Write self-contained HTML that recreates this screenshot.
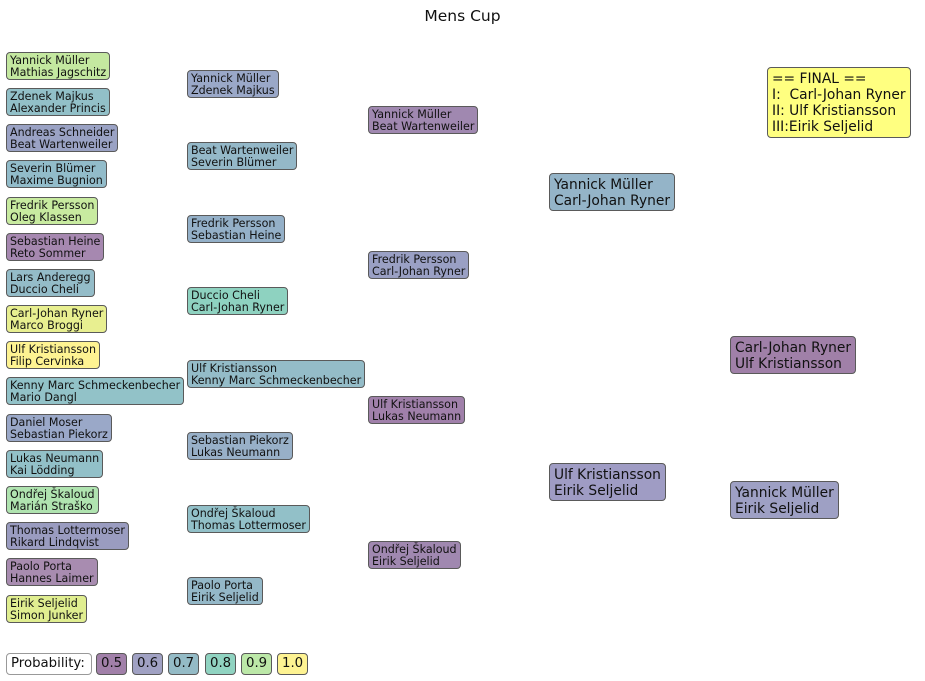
<!DOCTYPE html>
<html><head><meta charset="utf-8"><style>
body{margin:0;width:925px;height:681px;background:#fff;position:relative;overflow:hidden;font-family:"DejaVu Sans","Liberation Sans",sans-serif;color:#111}
.b{position:absolute;border:1px solid #5a5a5a;border-radius:4px;padding:2px 3px 1px 3px;font-size:11.1px;line-height:12px;white-space:nowrap;box-sizing:border-box;height:28px}
.L{font-size:13.8px;line-height:16px;padding:3px 4px 2px 4px;height:38px}
.t{position:absolute;left:0;width:925px;text-align:center;top:7px;font-size:15.5px}
.g{position:absolute;top:653px;height:22px;border:1px solid #5a5a5a;border-radius:4px;font-size:13.3px;line-height:20px;padding:0 4px;box-sizing:border-box}
</style></head><body>
<div class="t">Mens Cup</div>
<div class="b" style="left:6px;top:52px;background:#c4e8a0">Yannick Müller<br>Mathias Jagschitz</div>
<div class="b" style="left:6px;top:88px;background:#92c0c8">Zdenek Majkus<br>Alexander Princis</div>
<div class="b" style="left:6px;top:124px;background:#9aa2c4">Andreas Schneider<br>Beat Wartenweiler</div>
<div class="b" style="left:6px;top:160px;background:#92bcca">Severin Blümer<br>Maxime Bugnion</div>
<div class="b" style="left:6px;top:197px;background:#c8eba0">Fredrik Persson<br>Oleg Klassen</div>
<div class="b" style="left:6px;top:233px;background:#a688b0">Sebastian Heine<br>Reto Sommer</div>
<div class="b" style="left:6px;top:269px;background:#94bcc8">Lars Anderegg<br>Duccio Cheli</div>
<div class="b" style="left:6px;top:305px;background:#e8ef90">Carl-Johan Ryner<br>Marco Broggi</div>
<div class="b" style="left:6px;top:341px;background:#fef392">Ulf Kristiansson<br>Filip Cervinka</div>
<div class="b" style="left:6px;top:377px;background:#92c2c8">Kenny Marc Schmeckenbecher<br>Mario Dangl</div>
<div class="b" style="left:6px;top:414px;background:#9aa8c8">Daniel Moser<br>Sebastian Piekorz</div>
<div class="b" style="left:6px;top:450px;background:#92c0c8">Lukas Neumann<br>Kai Lödding</div>
<div class="b" style="left:6px;top:486px;background:#b0e4b0">Ondřej Škaloud<br>Marián Straško</div>
<div class="b" style="left:6px;top:522px;background:#9a9cc0">Thomas Lottermoser<br>Rikard Lindqvist</div>
<div class="b" style="left:6px;top:558px;background:#a88cb0">Paolo Porta<br>Hannes Laimer</div>
<div class="b" style="left:6px;top:595px;background:#e0ee90">Eirik Seljelid<br>Simon Junker</div>

<div class="b" style="left:187px;top:70px;background:#9aa8c8">Yannick Müller<br>Zdenek Majkus</div>
<div class="b" style="left:187px;top:142px;background:#94b8c8">Beat Wartenweiler<br>Severin Blümer</div>
<div class="b" style="left:187px;top:215px;background:#94b0c8">Fredrik Persson<br>Sebastian Heine</div>
<div class="b" style="left:187px;top:287px;background:#8ed2c0">Duccio Cheli<br>Carl-Johan Ryner</div>
<div class="b" style="left:187px;top:360px;background:#94bcc8">Ulf Kristiansson<br>Kenny Marc Schmeckenbecher</div>
<div class="b" style="left:187px;top:432px;background:#98b0c8">Sebastian Piekorz<br>Lukas Neumann</div>
<div class="b" style="left:187px;top:505px;background:#92c0c8">Ondřej Škaloud<br>Thomas Lottermoser</div>
<div class="b" style="left:187px;top:577px;background:#94b8c8">Paolo Porta<br>Eirik Seljelid</div>

<div class="b" style="left:368px;top:106px;background:#a088b0">Yannick Müller<br>Beat Wartenweiler</div>
<div class="b" style="left:368px;top:251px;background:#9aa0c4">Fredrik Persson<br>Carl-Johan Ryner</div>
<div class="b" style="left:368px;top:396px;background:#a080aa">Ulf Kristiansson<br>Lukas Neumann</div>
<div class="b" style="left:368px;top:541px;background:#a088b0">Ondřej Škaloud<br>Eirik Seljelid</div>

<div class="b L" style="left:549px;top:173px;background:#94b4c8">Yannick Müller<br>Carl-Johan Ryner</div>
<div class="b L" style="left:549px;top:463px;background:#9f9cc4">Ulf Kristiansson<br>Eirik Seljelid</div>
<div class="b L" style="left:730px;top:336px;background:#a080a8">Carl-Johan Ryner<br>Ulf Kristiansson</div>
<div class="b L" style="left:730px;top:481px;background:#9ea0c4">Yannick Müller<br>Eirik Seljelid</div>
<div class="b L" style="left:767px;top:67px;height:71px;background:#ffff80">== FINAL ==<br>I:&nbsp; Carl-Johan Ryner<br>II: Ulf Kristiansson<br>III:Eirik Seljelid</div>

<div class="g" style="left:6px;width:86px;background:#fff;border-color:#999">Probability:</div>
<div class="g" style="left:96px;background:#a180a9">0.5</div>
<div class="g" style="left:132px;background:#a0a1c3">0.6</div>
<div class="g" style="left:168px;background:#94bbc6">0.7</div>
<div class="g" style="left:205px;background:#90d3c1">0.8</div>
<div class="g" style="left:241px;background:#bce8a8">0.9</div>
<div class="g" style="left:277px;background:#fef392">1.0</div>
</body></html>
